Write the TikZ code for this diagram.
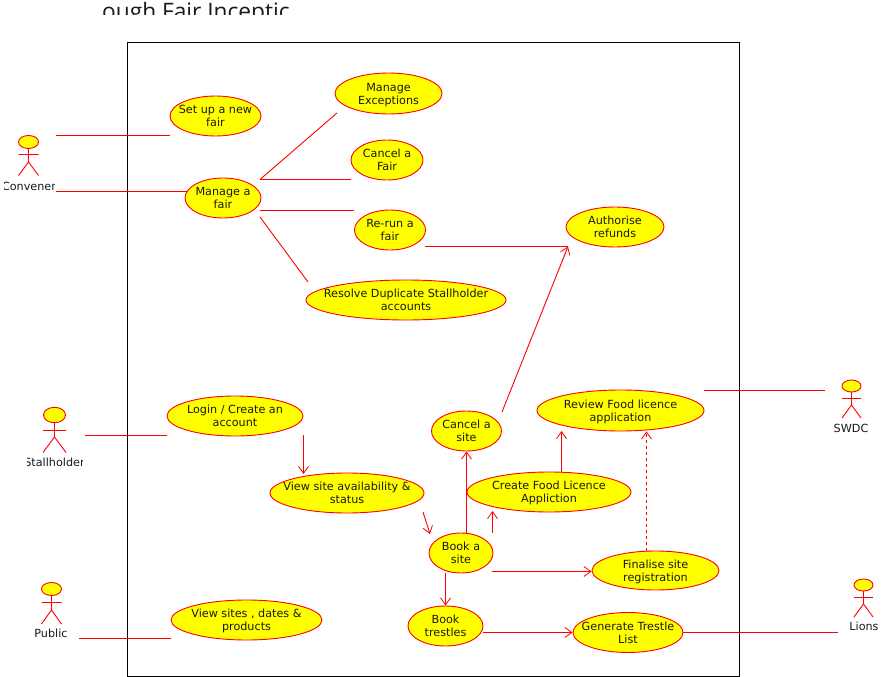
\documentclass[tikz,border=0pt]{standalone}
\usepackage{fontspec}
\setmainfont{DejaVu Sans}
\newfontfamily\titlefont{Open Sans}
\usetikzlibrary{shapes.geometric,arrows.meta}

\definecolor{umlyellow}{RGB}{255,255,0}
\definecolor{umlred}{RGB}{255,0,0}
\definecolor{umltext}{RGB}{25,25,25}

\tikzset{
  usecase/.style={ellipse,draw=umlred,fill=umlyellow,line width=.9pt,inner ysep=0pt,inner xsep=-30pt,align=center,text=umltext,text depth=0pt},
  assoc/.style={draw=umlred,line width=.9pt},
  flow/.style={assoc,-{Straight Barb[length=7pt,width=10pt,line width=.8pt]}},
  who/.style={text=umltext,inner sep=0pt}
}

% name, x, head y, head rx, head ry, arm y, crotch y, foot y, half width
\newcommand{\actor}[9]{
  \draw[assoc] (#2,#3) -- (#2,#7) (#2-#9,#6) -- (#2+#9,#6)
    (#2-#9,#8) -- (#2,#7) -- (#2+#9,#8);
  \node[usecase,inner xsep=0pt,minimum width=#4*2pt,minimum height=#5*2pt] (#1) at (#2,#3) {};
}

\begin{document}
\begin{tikzpicture}[x=1pt,y=-1pt,font={\fontsize{11.2}{13}\selectfont}]
  \useasboundingbox (0,0) rectangle (892,677);

  \begin{scope}
    \clip (95,0) rectangle (295,15);
    \node[who,anchor=base west,font={\titlefont\fontsize{22.7}{26}\selectfont}] (title) at (102,20) {ough Fair Inceptic};
  \end{scope}

  \draw[line width=.9pt] (127.5,42.5) rectangle (739.5,676.5);

  % actors
  \actor{convener}{28.5}{142}{10}{6.5}{154.5}{162}{175.5}{10}
  \actor{stallholder}{54.5}{415}{11}{7.7}{430.5}{437}{452.5}{11.5}
  \actor{public}{51.5}{589}{10}{6.5}{602.5}{610}{624}{10}
  \actor{swdc}{851.5}{386}{9.5}{6}{398.5}{405}{418}{9.5}
  \actor{lions}{863.5}{585}{9.5}{6}{597.5}{604}{617}{9.5}

  \begin{scope}
    \clip (4,175) rectangle (54,197);
    \node[who] (convenerlbl) at (29,186) {Convener};
  \end{scope}
  \begin{scope}
    \clip (27,452) rectangle (82,472);
    \node[who] (stallholderlbl) at (54.5,462) {Stallholder};
  \end{scope}
  \node[who] (publiclbl) at (51,633) {Public};
  \node[who] (swdclbl) at (851,428) {SWDC};
  \node[who] (lionslbl) at (864,626) {Lions};

  % use cases
  \node[usecase,minimum width=91pt,minimum height=40pt] (setup) at (215.5,116) {Set up a new\\fair};
  \node[usecase,minimum width=76pt,minimum height=40pt] (manage) at (223,198) {Manage a\\fair};
  \node[usecase,minimum width=107pt,minimum height=41pt] (exceptions) at (388.5,93.5) {Manage\\Exceptions};
  \node[usecase,minimum width=72pt,minimum height=40pt] (cancelfair) at (387,160) {Cancel a\\Fair};
  \node[usecase,minimum width=71pt,minimum height=40pt] (rerun) at (390,230) {Re-run a\\fair};
  \node[usecase,minimum width=98pt,minimum height=40pt] (refunds) at (615,227) {Authorise\\refunds};
  \node[usecase,minimum width=200pt,minimum height=40pt] (resolve) at (406,300) {Resolve Duplicate Stallholder\\accounts};
  \node[usecase,minimum width=136pt,minimum height=40pt] (login) at (235,416) {Login / Create an\\account};
  \node[usecase,minimum width=154pt,minimum height=40pt] (viewsite) at (347,493) {View site availability \&\\status};
  \node[usecase,minimum width=70pt,minimum height=40pt] (cancelsite) at (466.5,431) {Cancel a\\site};
  \node[usecase,minimum width=167pt,minimum height=41pt] (review) at (620.5,410.5) {Review Food licence\\application};
  \node[usecase,minimum width=164pt,minimum height=40pt] (foodapp) at (549,492) {Create Food Licence\\Appliction};
  \node[usecase,minimum width=64pt,minimum height=40pt] (booksite) at (461,553) {Book a\\site};
  \node[usecase,minimum width=127pt,minimum height=39pt] (finalise) at (655.5,570.5) {Finalise site\\registration};
  \node[usecase,minimum width=75pt,minimum height=40pt] (trestles) at (445.5,626) {Book\\trestles};
  \node[usecase,minimum width=110pt,minimum height=40pt] (trestlelist) at (628,632.5) {Generate Trestle\\List};
  \node[usecase,minimum width=151pt,minimum height=40pt] (viewall) at (246.5,620) {View sites , dates \&\\products};

  % free line ends
  \coordinate (c1) at (56,135.5);
  \coordinate (c2) at (56,191.5);
  \coordinate (s1) at (85,435.5);
  \coordinate (p1) at (79,638.5);
  \coordinate (d1) at (825,390.5);
  \coordinate (d2) at (704,390.5);
  \coordinate (l1) at (838,632.5);
  \coordinate (m1) at (260,179.5);
  \coordinate (m2) at (260,210.5);
  \coordinate (m3) at (260,217);
  \coordinate (x1) at (337,113);
  \coordinate (r1) at (308,282);
  \coordinate (u1) at (425,246.5);
  \coordinate (u2) at (568,246.5);
  \coordinate (k1) at (502,412);
  \coordinate (a1) at (303.5,435);
  \coordinate (a2) at (303.5,474);
  \coordinate (v1) at (423,512);
  \coordinate (v2) at (430,534);
  \coordinate (b1) at (492.5,533);
  \coordinate (b2) at (492.5,511);
  \coordinate (b3) at (492,571.5);
  \coordinate (f1) at (561.5,431);
  \coordinate (f2) at (646.5,500);

  \foreach \from/\to in {c1/setup.west |- c1, s1/login.west |- s1, p1/viewall.west |- p1,
    m1/x1, m1/cancelfair.west |- m1, m2/rerun.west |- m2, m3/r1, d1/d2, trestlelist.east/l1, u1/u2}
    \draw [assoc] (\from) -- (\to);
  \draw [assoc] (c2) -- ([xshift=2pt]c2 -| manage.west);

  \foreach \from/\to in {a1/a2, v1/v2, k1/u2, cancelsite.south |- booksite.north/cancelsite.south, b1/b2,
    f1 |- foodapp.north/f1, b3/finalise.west |- b3, trestles.north |- booksite.south/trestles.north,
    trestles.east |- trestlelist.west/trestlelist.west}
    \draw [flow] (\from) -- (\to);

  \draw [flow,dashed] (f2 |- finalise.north) -- (f2 |- review.south);
\end{tikzpicture}
\end{document}
